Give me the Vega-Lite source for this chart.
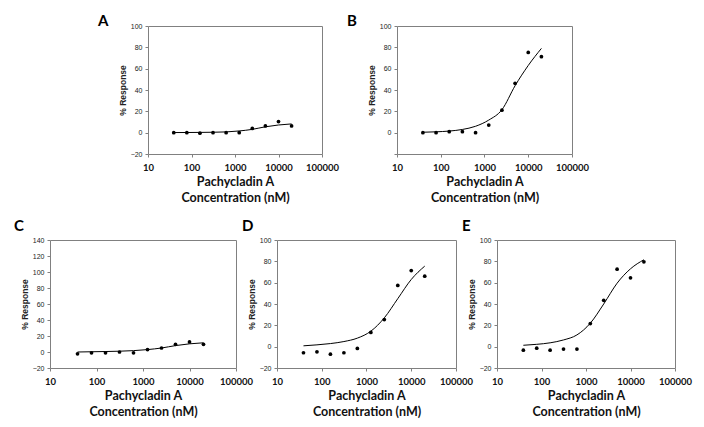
{
  "$schema": "https://vega.github.io/schema/vega-lite/v6.json",
  "background": "white",
  "padding": {"left": 13, "top": 13, "right": 5, "bottom": 5},
  "datasets": {
    "A_pts": [{"conc":39.0625,"resp":0},{"conc":78.125,"resp":0},{"conc":156.25,"resp":-0.5},{"conc":312.5,"resp":0},{"conc":625,"resp":0},{"conc":1250,"resp":0},{"conc":2500,"resp":4},{"conc":5000,"resp":6.3},{"conc":10000,"resp":10.4},{"conc":20000,"resp":6.3}],
    "A_fit": [{"conc":39.0625,"resp":0.1},{"conc":78.125,"resp":0.15},{"conc":156.25,"resp":0.25},{"conc":312.5,"resp":0.4},{"conc":625,"resp":0.7},{"conc":1250,"resp":1.6},{"conc":2500,"resp":3.1},{"conc":5000,"resp":5.5},{"conc":10000,"resp":7.2},{"conc":20000,"resp":8.2}],
    "B_pts": [{"conc":39.0625,"resp":0},{"conc":78.125,"resp":0},{"conc":156.25,"resp":0.9},{"conc":312.5,"resp":0.9},{"conc":625,"resp":0},{"conc":1250,"resp":7.1},{"conc":2500,"resp":21.1},{"conc":5000,"resp":46.3},{"conc":10000,"resp":75.2},{"conc":20000,"resp":71.2}],
    "B_fit": [{"conc":39.0625,"resp":0.4},{"conc":78.125,"resp":0.8},{"conc":156.25,"resp":1.5},{"conc":312.5,"resp":3.0},{"conc":625,"resp":6.0},{"conc":1250,"resp":11.8},{"conc":2500,"resp":21.5},{"conc":5000,"resp":44},{"conc":10000,"resp":63},{"conc":20000,"resp":79}],
    "C_pts": [{"conc":39.0625,"resp":-2.2},{"conc":78.125,"resp":-1},{"conc":156.25,"resp":-1},{"conc":312.5,"resp":0},{"conc":625,"resp":-1},{"conc":1250,"resp":3},{"conc":2500,"resp":5},{"conc":5000,"resp":9.6},{"conc":10000,"resp":12.6},{"conc":20000,"resp":9.6}],
    "C_fit": [{"conc":39.0625,"resp":0},{"conc":78.125,"resp":0.3},{"conc":156.25,"resp":0.6},{"conc":312.5,"resp":1.0},{"conc":625,"resp":1.7},{"conc":1250,"resp":3.0},{"conc":2500,"resp":5.0},{"conc":5000,"resp":8.0},{"conc":10000,"resp":10.2},{"conc":20000,"resp":11.5}],
    "D_pts": [{"conc":39.0625,"resp":-5.7},{"conc":78.125,"resp":-4.8},{"conc":156.25,"resp":-7},{"conc":312.5,"resp":-5.7},{"conc":625,"resp":-1.7},{"conc":1250,"resp":13.3},{"conc":2500,"resp":25.4},{"conc":5000,"resp":57.4},{"conc":10000,"resp":71.4},{"conc":20000,"resp":66.1}],
    "D_fit": [{"conc":39.0625,"resp":0.8},{"conc":78.125,"resp":1.7},{"conc":156.25,"resp":2.9},{"conc":312.5,"resp":4.8},{"conc":625,"resp":8},{"conc":1250,"resp":14.5},{"conc":2500,"resp":27},{"conc":5000,"resp":45},{"conc":10000,"resp":63},{"conc":20000,"resp":75.5}],
    "E_pts": [{"conc":39.0625,"resp":-3.3},{"conc":78.125,"resp":-1.4},{"conc":156.25,"resp":-3.3},{"conc":312.5,"resp":-2.3},{"conc":625,"resp":-2.3},{"conc":1250,"resp":21.7},{"conc":2500,"resp":43.5},{"conc":5000,"resp":72.6},{"conc":10000,"resp":64.6},{"conc":20000,"resp":79.6}],
    "E_fit": [{"conc":39.0625,"resp":1.3},{"conc":78.125,"resp":2.2},{"conc":156.25,"resp":3.6},{"conc":312.5,"resp":6.3},{"conc":625,"resp":11},{"conc":1250,"resp":22},{"conc":2500,"resp":40},{"conc":5000,"resp":59.5},{"conc":10000,"resp":73},{"conc":20000,"resp":81.5}]
  },
  "config": {
    "font": "Lato",
    "view": {"stroke": "#808080", "strokeWidth": 1},
    "axis": {"grid": false, "domain": false, "tickColor": "#808080", "tickSize": 3, "tickWidth": 1},
    "axisX": {"labelFont": "Lato", "labelFontSize": 9.5, "labelFontWeight": "bold", "labelColor": "#111", "labelPadding": 5, "titleFont": "Lato", "titleFontSize": 12.5, "titleFontWeight": "bold", "titleLineHeight": 16, "titlePadding": 4, "titleColor": "#111", "labelFlush": false, "labelOverlap": false},
    "axisY": {"labelFont": "Liberation Sans", "labelFontSize": 7, "labelColor": "#222", "labelPadding": 3, "titleFont": "Liberation Sans", "titleFontSize": 8.5, "titleFontWeight": "bold", "titlePadding": 3, "titleColor": "#222", "labelFlush": false, "labelOverlap": false},
    "title": {"font": "Lato", "fontSize": 15, "fontWeight": "bold", "anchor": "start", "frame": "group", "offset": 0, "color": "#000"}
  },
  "spacing": 13,
  "vconcat": [
    {
      "bounds": "flush",
      "spacing": 75,
      "hconcat": [
        {
          "width": 23, "height": 128,
          "data": {"values": []},
          "mark": {"type": "point"},
          "view": {"stroke": null}
        },
        {
          "title": {"text": "A", "dx": -50, "dy": 11},
          "width": 174, "height": 128,
          "encoding": {
            "x": {"field": "conc", "type": "quantitative", "scale": {"type": "log", "domain": [10, 100000], "nice": false}, "axis": {"values": [10,100,1000,10000,100000], "format": "d", "title": ["Pachycladin A", "Concentration (nM)"]}},
            "y": {"field": "resp", "type": "quantitative", "scale": {"domain": [-20, 100], "nice": false, "zero": false}, "axis": {"values": [-20,0,20,40,60,80,100], "title": "% Response"}}
          },
          "layer": [
            {"data": {"name": "A_fit"}, "mark": {"type": "line", "color": "black", "strokeWidth": 1, "interpolate": "monotone"}},
            {"data": {"name": "A_pts"}, "mark": {"type": "circle", "size": 14, "color": "black", "opacity": 1}}
          ]
        },
        {
          "title": {"text": "B", "dx": -50, "dy": 11},
          "width": 175, "height": 128,
          "encoding": {
            "x": {"field": "conc", "type": "quantitative", "scale": {"type": "log", "domain": [10, 100000], "nice": false}, "axis": {"values": [10,100,1000,10000,100000], "format": "d", "title": ["Pachycladin A", "Concentration (nM)"]}},
            "y": {"field": "resp", "type": "quantitative", "scale": {"domain": [-20, 100], "nice": false, "zero": false}, "axis": {"values": [-20,0,20,40,60,80,100], "title": "% Response", "labelExpr": "datum.value === -20 ? '' : datum.label"}}
          },
          "layer": [
            {"data": {"name": "B_fit"}, "mark": {"type": "line", "color": "black", "strokeWidth": 1, "interpolate": "monotone"}},
            {"data": {"name": "B_pts"}, "mark": {"type": "circle", "size": 14, "color": "black", "opacity": 1}}
          ]
        }
      ]
    },
    {
      "bounds": "flush",
      "spacing": 41,
      "hconcat": [
        {
          "title": {"text": "C", "dx": -36, "dy": 2},
          "width": 186, "height": 128,
          "encoding": {
            "x": {"field": "conc", "type": "quantitative", "scale": {"type": "log", "domain": [10, 100000], "nice": false}, "axis": {"values": [10,100,1000,10000,100000], "format": "d", "title": ["Pachycladin A", "Concentration (nM)"]}},
            "y": {"field": "resp", "type": "quantitative", "scale": {"domain": [-20, 140], "nice": false, "zero": false}, "axis": {"values": [-20,0,20,40,60,80,100,120,140], "title": "% Response"}}
          },
          "layer": [
            {"data": {"name": "C_fit"}, "mark": {"type": "line", "color": "black", "strokeWidth": 1, "interpolate": "monotone"}},
            {"data": {"name": "C_pts"}, "mark": {"type": "circle", "size": 14, "color": "black", "opacity": 1}}
          ]
        },
        {
          "title": {"text": "D", "dx": -35, "dy": 2},
          "width": 179, "height": 128,
          "encoding": {
            "x": {"field": "conc", "type": "quantitative", "scale": {"type": "log", "domain": [10, 100000], "nice": false}, "axis": {"values": [10,100,1000,10000,100000], "format": "d", "title": ["Pachycladin A", "Concentration (nM)"]}},
            "y": {"field": "resp", "type": "quantitative", "scale": {"domain": [-20, 100], "nice": false, "zero": false}, "axis": {"values": [-20,0,20,40,60,80,100], "title": "% Response"}}
          },
          "layer": [
            {"data": {"name": "D_fit"}, "mark": {"type": "line", "color": "black", "strokeWidth": 1, "interpolate": "monotone"}},
            {"data": {"name": "D_pts"}, "mark": {"type": "circle", "size": 14, "color": "black", "opacity": 1}}
          ]
        },
        {
          "title": {"text": "E", "dx": -35, "dy": 2},
          "width": 178, "height": 128,
          "encoding": {
            "x": {"field": "conc", "type": "quantitative", "scale": {"type": "log", "domain": [10, 100000], "nice": false}, "axis": {"values": [10,100,1000,10000,100000], "format": "d", "title": ["Pachycladin A", "Concentration (nM)"]}},
            "y": {"field": "resp", "type": "quantitative", "scale": {"domain": [-20, 100], "nice": false, "zero": false}, "axis": {"values": [-20,0,20,40,60,80,100], "title": "% Response"}}
          },
          "layer": [
            {"data": {"name": "E_fit"}, "mark": {"type": "line", "color": "black", "strokeWidth": 1, "interpolate": "monotone"}},
            {"data": {"name": "E_pts"}, "mark": {"type": "circle", "size": 14, "color": "black", "opacity": 1}}
          ]
        }
      ]
    }
  ]
}
